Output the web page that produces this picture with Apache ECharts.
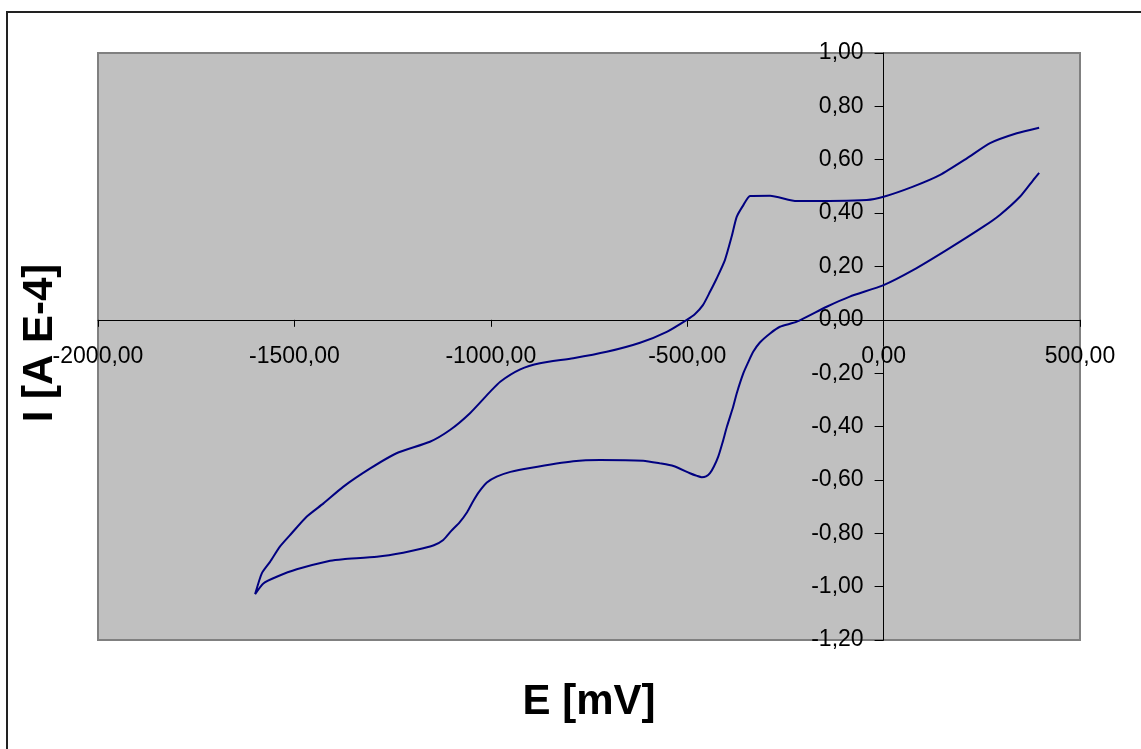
<!DOCTYPE html>
<html><head><meta charset="utf-8">
<script src="https://cdn.jsdelivr.net/npm/echarts@6/dist/echarts.min.js"></script>
<style>html,body{margin:0;padding:0;background:#fff}#c{width:1141px;height:749px}</style>
</head><body><div id="c"></div>
<script>
// Potential E [mV] and current I [A E-4] along the voltammogram path
const potentialE = [396,381,347,296,254,161,76,0,-86,-145,-221,-264,-289,-315,-332,-345,-357,-374,-383,-399,-410,-421,-432,-442,-452,-463,-475,-493,-535,-569,-612,-722,-790,-900,-950,-985,-1010,-1030,-1045,-1060,-1080,-1100,-1121,-1145,-1172,-1223,-1290,-1376,-1409,-1494,-1545,-1579,-1600,
  -1583,-1562,-1537,-1507,-1469,-1426,-1376,-1307,-1240,-1155,-1104,-1053,-1002,-976,-925,-875,-790,-705,-620,-552,-501,-480,-460,-442,-425,-404,-387,-374,-357,-340,-289,-221,-43,0,75,144,212,271,339,396];
const currentI = [0.551,0.524,0.461,0.393,0.349,0.262,0.187,0.130,0.087,0.049,-0.007,-0.026,-0.051,-0.085,-0.120,-0.160,-0.200,-0.276,-0.326,-0.401,-0.460,-0.513,-0.550,-0.575,-0.587,-0.590,-0.585,-0.575,-0.548,-0.538,-0.528,-0.525,-0.530,-0.555,-0.570,-0.588,-0.610,-0.645,-0.680,-0.720,-0.760,-0.790,-0.825,-0.845,-0.856,-0.873,-0.888,-0.897,-0.903,-0.935,-0.963,-0.988,-1.028,
  -0.950,-0.907,-0.850,-0.800,-0.738,-0.688,-0.626,-0.557,-0.500,-0.457,-0.413,-0.350,-0.270,-0.232,-0.186,-0.163,-0.144,-0.120,-0.086,-0.045,0.000,0.022,0.055,0.105,0.155,0.224,0.311,0.386,0.430,0.464,0.465,0.445,0.449,0.461,0.499,0.543,0.605,0.662,0.699,0.720];
const xTitle = 'E [mV]';
const yTitle = 'I [A E-4]';

const fmt = v => (Math.abs(v) < 1e-9 ? 0 : v).toFixed(2).replace('.', ',');
const chart = echarts.init(document.getElementById('c'), null, {renderer: 'canvas'});
const font = 'Liberation Sans, Arial, sans-serif';
const G = {left: 98, top: 53, width: 982, height: 587};
const xMin = -2000, xMax = 500, yMin = -1.2, yMax = 1.0;
// place the axes where the other axis is zero
const xZeroPx = G.width * (0 - xMin) / (xMax - xMin);
const yZeroPx = G.height * (0 - yMin) / (yMax - yMin);
chart.setOption({
  animation: false,
  backgroundColor: '#ffffff',
  grid: Object.assign({show: true, backgroundColor: '#c0c0c0', borderColor: '#808080', borderWidth: 2, containLabel: false}, G),
  xAxis: {
    type: 'value', min: xMin, max: xMax, interval: 500, position: 'bottom', offset: -yZeroPx,
    axisLine: {onZero: false, lineStyle: {color: '#000', width: 1}},
    axisTick: {show: true, length: 7, lineStyle: {color: '#000'}},
    splitLine: {show: false},
    axisLabel: {formatter: fmt, color: '#000', fontFamily: font, fontSize: 23, margin: 25, showMinLabel: true, showMaxLabel: true, hideOverlap: false}
  },
  yAxis: {
    type: 'value', min: yMin, max: yMax, interval: 0.2, position: 'left', offset: -xZeroPx,
    axisLine: {onZero: false, lineStyle: {color: '#000', width: 1}},
    axisTick: {show: true, length: 9, lineStyle: {color: '#000'}},
    splitLine: {show: false},
    axisLabel: {formatter: fmt, color: '#000', fontFamily: font, fontSize: 23, margin: 20, showMinLabel: true, showMaxLabel: true, hideOverlap: false}
  },
  series: [{
    type: 'line', showSymbol: false, symbol: 'none', smooth: 0.2,
    data: potentialE.map((e, i) => [e, currentI[i]]),
    lineStyle: {color: '#000080', width: 2}
  }],
  graphic: [
    {type: 'rect', shape: {x: 7, y: 12, width: 1200, height: 800}, style: {fill: 'none', stroke: '#222', lineWidth: 2}, silent: true, z: 100},
    {type: 'text', x: 589, y: 702, style: {text: xTitle, font: 'bold 42px Liberation Sans, Arial, sans-serif', fill: '#000', textAlign: 'center', textVerticalAlign: 'middle'}},
    {type: 'text', x: 40, y: 343, rotation: Math.PI / 2, style: {text: yTitle, font: 'bold 42px Liberation Sans, Arial, sans-serif', fill: '#000', textAlign: 'center', textVerticalAlign: 'middle'}}
  ]
});
</script></body></html>
